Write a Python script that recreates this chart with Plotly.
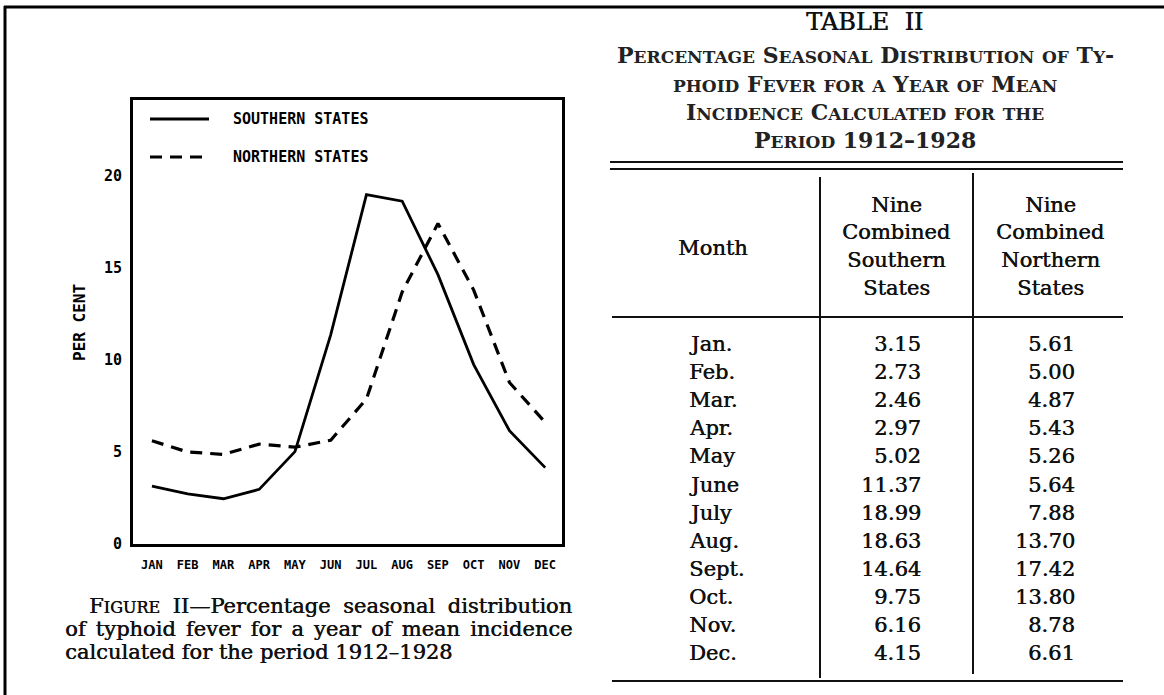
import plotly.graph_objects as go

# ---------------- data ----------------
month_ticks = ["JAN", "FEB", "MAR", "APR", "MAY", "JUN", "JUL", "AUG", "SEP", "OCT", "NOV", "DEC"]
table_months = ["Jan.", "Feb.", "Mar.", "Apr.", "May", "June", "July", "Aug.", "Sept.", "Oct.", "Nov.", "Dec."]
southern = [3.15, 2.73, 2.46, 2.97, 5.02, 11.37, 18.99, 18.63, 14.64, 9.75, 6.16, 4.15]
northern = [5.61, 5.00, 4.87, 5.43, 5.26, 5.64, 7.88, 13.70, 17.42, 13.80, 8.78, 6.61]
y_ticks = [0, 5, 10, 15, 20]

W, H = 1164, 695      # reference frame used for placing elements
FIG_H = 704           # page height (photo is fitted to 695)


def px(x):
    return x / W


def py(y):
    return 1 - y / H


def smallcaps(s, small):
    out, run = "", ""
    for ch in s:
        if ch.islower():
            run += ch.upper()
        else:
            if run:
                out += f"<span style='font-size:{small}px'>{run}</span>"
                run = ""
            out += ch
    if run:
        out += f"<span style='font-size:{small}px'>{run}</span>"
    return out


MONO = "DejaVu Sans Mono"
SERIF = "DejaVu Serif"
INK = "#111111"
HEAVY = "0.5px 0px 0px #111111"

fig = go.Figure()
fig.add_trace(go.Scatter(x=month_ticks, y=southern, mode="lines", name="SOUTHERN STATES",
                         line=dict(color="black", width=2.8), showlegend=False))
fig.add_trace(go.Scatter(x=month_ticks, y=northern, mode="lines", name="NORTHERN STATES",
                         line=dict(color="black", width=3.2, dash="12px,8px"), showlegend=False))

shapes = []
annotations = []

# legend inside the plot box
shapes.append(dict(type="line", xref="paper", yref="paper", x0=px(150), x1=px(209), y0=py(119), y1=py(119),
                   line=dict(color="black", width=2.8)))
shapes.append(dict(type="line", xref="paper", yref="paper", x0=px(150), x1=px(209), y0=py(157), y1=py(157),
                   line=dict(color="black", width=3.2, dash="12px,8px")))
for name, yy in [("SOUTHERN STATES", 119), ("NORTHERN STATES", 157)]:
    annotations.append(dict(text=f"<b>{name}</b>", xref="paper", yref="paper", x=px(231), y=py(yy),
                            xanchor="left", yanchor="middle", showarrow=False,
                            font=dict(family=MONO, size=15, color="black")))

# y axis label
annotations.append(dict(text="<b>PER CENT</b>", xref="paper", yref="paper", x=px(80), y=py(323),
                        xanchor="center", yanchor="middle", showarrow=False, textangle=-90,
                        font=dict(family=MONO, size=16, color="black")))

# outer frame
shapes.append(dict(type="line", xref="paper", yref="paper", x0=px(4), x1=1, y0=py(7), y1=py(7),
                   line=dict(color="black", width=3)))
shapes.append(dict(type="line", xref="paper", yref="paper", x0=px(5), x1=px(5), y0=py(6), y1=0,
                   line=dict(color="black", width=3)))

# caption
cap_font = dict(family=SERIF, size=21, color=INK, shadow=HEAVY)
annotations.append(dict(text="<span style='word-spacing:6px'>" + smallcaps("Figure", 16) +
                        " II—Percentage seasonal distribution</span>",
                        xref="paper", yref="paper", x=px(87), y=py(606), xanchor="left", yanchor="middle",
                        showarrow=False, font=cap_font))
annotations.append(dict(text="<span style='word-spacing:3.5px'>of typhoid fever for a year of mean incidence</span>",
                        xref="paper", yref="paper", x=px(63), y=py(629), xanchor="left", yanchor="middle",
                        showarrow=False, font=cap_font))
annotations.append(dict(text="calculated for the period 1912–1928",
                        xref="paper", yref="paper", x=px(63), y=py(652), xanchor="left", yanchor="middle",
                        showarrow=False, font=cap_font))

# table title
annotations.append(dict(text="TABLE  II", xref="paper", yref="paper", x=px(864), y=py(22),
                        xanchor="center", yanchor="middle", showarrow=False,
                        font=dict(family=SERIF, size=24, color=INK, shadow=HEAVY)))
sub_lines = ["Percentage Seasonal Distribution of Ty-", "phoid Fever for a Year of Mean",
             "Incidence Calculated for the", "Period 1912–1928"]
for line, yy in zip(sub_lines, [55, 84, 112, 140]):
    annotations.append(dict(text="<b>" + smallcaps(line, 17) + "</b>", xref="paper", yref="paper",
                            x=px(865), y=py(yy), xanchor="center", yanchor="middle", showarrow=False,
                            font=dict(family=SERIF, size=22, color="#222222")))

# table rules
rule = dict(color=INK, width=2)
shapes.append(dict(type="line", xref="paper", yref="paper", x0=px(610), x1=px(1123), y0=py(162), y1=py(162), line=rule))
shapes.append(dict(type="line", xref="paper", yref="paper", x0=px(610), x1=px(1123), y0=py(169), y1=py(169), line=rule))
shapes.append(dict(type="line", xref="paper", yref="paper", x0=px(612), x1=px(1123), y0=py(317), y1=py(317), line=rule))
shapes.append(dict(type="line", xref="paper", yref="paper", x0=px(612), x1=px(1123), y0=py(681), y1=py(681), line=rule))
shapes.append(dict(type="line", xref="paper", yref="paper", x0=px(820), x1=px(820), y0=py(177), y1=py(678), line=rule))
shapes.append(dict(type="line", xref="paper", yref="paper", x0=px(973), x1=px(973), y0=py(173), y1=py(674), line=rule))

tfont = dict(family=SERIF, size=21, color=INK, shadow=HEAVY)
annotations.append(dict(text="Month", xref="paper", yref="paper", x=px(713), y=py(248),
                        xanchor="center", yanchor="middle", showarrow=False, font=tfont))
hdr_lines = [205, 232, 260, 288]
for words, xc in [(["Nine", "Combined", "Southern", "States"], 896),
                  (["Nine", "Combined", "Northern", "States"], 1050)]:
    for w, yy in zip(words, hdr_lines):
        annotations.append(dict(text=w, xref="paper", yref="paper", x=px(xc), y=py(yy),
                                xanchor="center", yanchor="middle", showarrow=False, font=tfont))

row0, dy = 344, 28.1
for i, (m, s, n) in enumerate(zip(table_months, southern, northern)):
    yy = py(row0 + i * dy)
    annotations.append(dict(text=m, xref="paper", yref="paper", x=px(687), y=yy,
                            xanchor="left", yanchor="middle", showarrow=False, font=tfont))
    annotations.append(dict(text=f"{s:.2f}", xref="paper", yref="paper", x=px(923), y=yy,
                            xanchor="right", yanchor="middle", showarrow=False, font=tfont))
    annotations.append(dict(text=f"{n:.2f}", xref="paper", yref="paper", x=px(1077), y=yy,
                            xanchor="right", yanchor="middle", showarrow=False, font=tfont))

fig.update_layout(
    width=W, height=FIG_H,
    margin=dict(l=0, r=0, t=0, b=0),
    paper_bgcolor="white", plot_bgcolor="white",
    showlegend=False,
    shapes=shapes, annotations=annotations,
    xaxis=dict(domain=[px(133), px(562)], range=[-0.53, 11.47], type="category",
               tickvals=month_ticks, ticktext=[f"<b>{t}</b>" for t in month_ticks],
               showgrid=False, zeroline=False, showline=True, mirror=True,
               linecolor="black", linewidth=2.8, ticks="", ticklabelstandoff=8,
               tickfont=dict(family=MONO, size=12, color="black")),
    yaxis=dict(domain=[py(544), py(100)], range=[0, 24.13],
               tickvals=y_ticks, ticktext=[f"<b>{t}</b>" for t in y_ticks],
               showgrid=False, zeroline=False, showline=True, mirror=True,
               linecolor="black", linewidth=2.8, ticks="", ticklabelstandoff=5,
               tickfont=dict(family=MONO, size=15, color="black")),
)

post = """
var st = function(el){ if(!el) return; el.style.margin='0'; el.style.padding='0';
  el.style.overflow='hidden'; };
st(document.documentElement); st(document.body);
"""

fig.write_html("out.html", config={"displayModeBar": False}, post_script=post)
